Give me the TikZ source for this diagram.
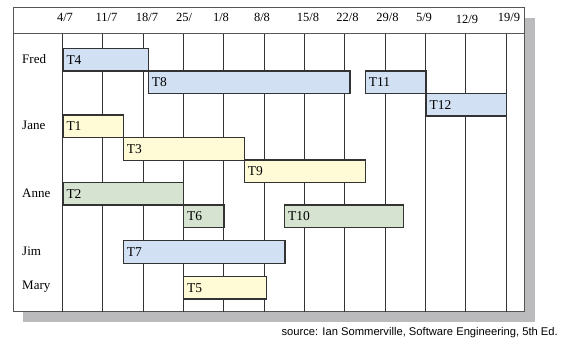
\documentclass[tikz,border=0pt]{standalone}
\usepackage{fontspec}
\setmainfont{Liberation Serif}
\newfontfamily\srcfont{Liberation Sans}
\definecolor{gblue}{HTML}{D1E0F3}
\definecolor{gyellow}{HTML}{FFFBD6}
\definecolor{ggreen}{HTML}{D6E3D0}
\definecolor{gshadow}{HTML}{BBBBBE}
\definecolor{gline}{HTML}{333333}
\definecolor{gframe}{HTML}{555555}
\tikzset{
  gbarbox/.style={draw=gline, line width=1.4pt, inner xsep=3.5pt, inner ysep=0pt,
    minimum height=22.6pt, align=left, text height=8.8pt, text depth=0pt,
    font=\fontsize{13.5}{14}\selectfont, anchor=north west},
  rowlabel/.style={anchor=west, inner sep=0pt, font=\fontsize{13}{14}\selectfont},
  datelabel/.style={anchor=base, inner sep=0pt, font=\fontsize{12.5}{14}\selectfont},
  gridline/.style={draw=gline, line width=0.9pt},
}
\newcommand\gantbar[6]{%
  \node[gbarbox, fill=#5, text width={#3pt-#2pt-7pt}] (#1) at (#2,#4) {#6};}
\begin{document}
\begin{tikzpicture}[x=1pt,y=-1pt]
\useasboundingbox (0,0) rectangle (570,339);
% shadow
\fill[gshadow] (23,18) rectangle (535,322);
% frame
\fill[white] (13,7.5) rectangle (524,311.7);
\draw[gframe, line width=0.9pt] (13,7.5) rectangle (524,311.7);
\draw[gframe, line width=0.9pt] (13,33.7) -- (524,33.7);
% vertical grid lines
\foreach \i in {0,...,11} {
  \draw[gridline] ({62.3+40.35*\i},33.7) -- ({62.3+40.35*\i},311.7);
}
% date labels
\node[datelabel] (d1) at (65,22) {4/7};
\node[datelabel] (d2) at (106.5,22) {11/7};
\node[datelabel] (d3) at (147,22) {18/7};
\node[datelabel] (d4) at (184,22) {25/};
\node[datelabel] (d5) at (221,22) {1/8};
\node[datelabel] (d6) at (262,22) {8/8};
\node[datelabel] (d7) at (308,22) {15/8};
\node[datelabel] (d8) at (347.5,22) {22/8};
\node[datelabel] (d9) at (387.5,22) {29/8};
\node[datelabel] (d10) at (424,22) {5/9};
\node[datelabel] (d11) at (467,24) {12/9};
\node[datelabel] (d12) at (509,22) {19/9};
% row labels
\node[rowlabel] (fred) at (22,58.8) {Fred};
\node[rowlabel] (jane) at (22,125.8) {Jane};
\node[rowlabel] (anne) at (22,192.8) {Anne};
\node[rowlabel] (jim) at (22,251) {Jim};
\node[rowlabel] (mary) at (22,286.8) {Mary};
% bars
\gantbar{T4}{62.3}{147.7}{47.7}{gblue}{T4}
\gantbar{T8}{147.7}{349.3}{70.2}{gblue}{T8}
\gantbar{T11}{364.7}{425.3}{70.2}{gblue}{T11}
\gantbar{T12}{425.3}{506}{92.7}{gblue}{T12}
\gantbar{T1}{62.3}{122.7}{114.5}{gyellow}{T1}
\gantbar{T3}{122.7}{243.7}{137}{gyellow}{T3}
\gantbar{T9}{243.7}{365}{159.5}{gyellow}{T9}
\gantbar{T2}{62.3}{183}{181.7}{ggreen}{T2}
\gantbar{T6}{183}{223.3}{204.2}{ggreen}{T6}
\gantbar{T10}{284}{403}{204.2}{ggreen}{T10}
\gantbar{T7}{122.7}{284.3}{240}{gblue}{T7}
\gantbar{T5}{183}{266}{275.7}{gyellow}{T5}
% source
\node[anchor=base east, inner sep=0pt, font=\srcfont\fontsize{11.2}{13}\selectfont] (src) at (558,335)
  {source: Ian Sommerville, Software Engineering, 5th Ed.};
\end{tikzpicture}
\end{document}
